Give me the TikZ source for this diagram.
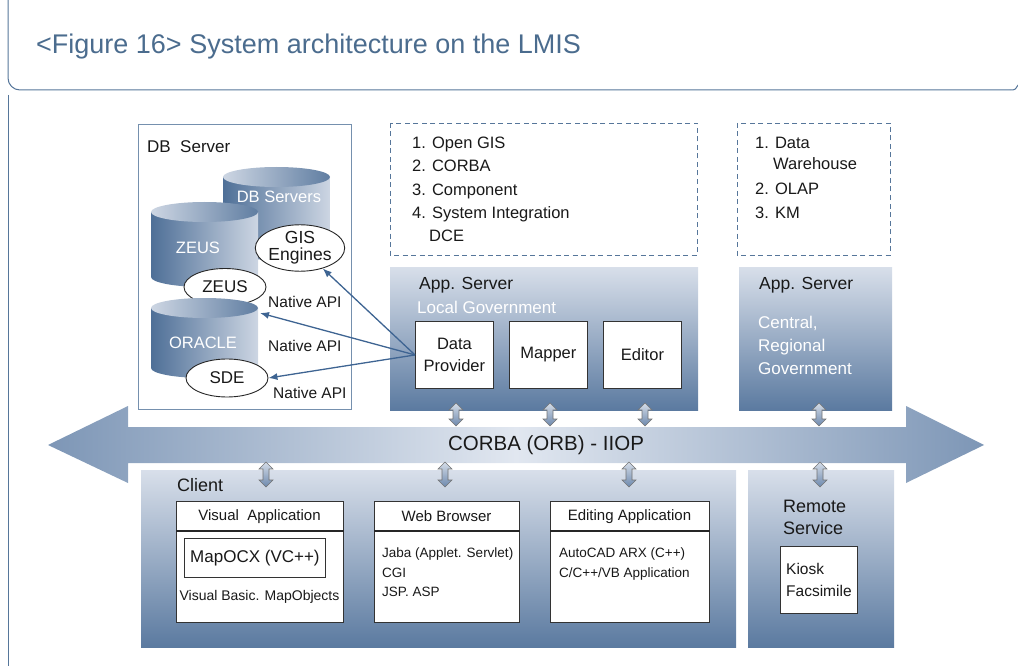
\documentclass[tikz,border=0pt]{standalone}
\usepackage{fontspec}
\setmainfont{Liberation Sans}
\usetikzlibrary{positioning,arrows.meta,shapes.geometric}

\definecolor{titleblue}{HTML}{4B6C8E}
\definecolor{frameblue}{HTML}{56769A}
\definecolor{dbframe}{HTML}{7590AE}
\definecolor{paneltop}{HTML}{D8DFEA}
\definecolor{panelbot}{HTML}{5B7AA0}
\definecolor{cyldark}{HTML}{4E6F97}
\definecolor{cyllight}{HTML}{CDD6E3}
\definecolor{busedge}{HTML}{7D96B6}
\definecolor{busmid}{HTML}{E1E7F0}
\definecolor{linkblue}{HTML}{3E6492}
\definecolor{iotop}{HTML}{D5DDE8}
\definecolor{iobot}{HTML}{6C88AD}

\newcommand{\fsz}[2]{\fontsize{#1}{#2}\selectfont}

\begin{document}
\begin{tikzpicture}[x=1pt, y=-1pt,
    txt/.style={inner sep=0pt, text=black!90},
    whitebox/.style={draw=black!80, fill=white, line width=0.9pt, inner sep=0pt, text=black!90},
    dbell/.style={ellipse, draw=black!85, fill=white, line width=0.9pt, inner sep=0pt, align=center, text=black!90},
    dashbox/.style={draw=frameblue, line width=0.9pt, dash pattern=on 5pt off 3.5pt},
    panel/.style={top color=paneltop, bottom color=panelbot},
    cylbody/.style={left color=cyldark, right color=cyllight},
    cyltop/.style={left color=cyllight, right color=cyldark!90},
    link/.style={draw=linkblue, line width=1.3pt, -{Latex[length=9pt,width=7pt]}},
    ioarrow/.style={draw=black!55, line width=0.6pt, top color=iotop, bottom color=iobot}]
  \useasboundingbox (0,0) rectangle (1018,666);

  % heading frame
  \draw[frameblue, line width=1pt, rounded corners=12pt] (8,0) -- (8,90) -- (1010,90);
  \draw[frameblue, line width=1pt] (1010,90) .. controls (1015,90) .. (1018,85);
  \draw[frameblue, line width=1pt] (8,95) -- (8,666);
  \node[txt, anchor=west, text=titleblue, font=\fsz{27}{30}] (title) at (36,47) {<Figure 16> System architecture on the LMIS};

  % DB server
  \draw[dbframe, line width=1pt] (138,125) rectangle (351,409);
  \node[txt, anchor=west, font=\fsz{17}{20}] (dbtitle) at (147,147) {DB\ \ Server};
  \foreach \cx/\ct/\cb in {276.5/177/250, 204.5/212/277} {
    \shade[cylbody] (\cx-53.5,\ct) -- (\cx-53.5,\cb) arc[start angle=180, end angle=360, x radius=53.5pt, y radius=10pt] -- (\cx+53.5,\ct) -- cycle;
    \shade[cyltop] (\cx,\ct) ellipse[x radius=53.5pt, y radius=10pt];
  }
  \node[txt, text=white, font=\fsz{16.5}{20}] (dbsrv) at (279,197) {DB Servers};
  \node[txt, text=white, font=\fsz{16.5}{20}] (zeuscyl) at (198,248) {ZEUS};
  \node[dbell, minimum width=76pt, minimum height=46pt, font=\fsz{17.5}{17}] (gis) at (300,248) {GIS\\Engines};
  \node[dbell, minimum width=82pt, minimum height=37pt, font=\fsz{17}{20}] (zeus) at (225,287) {ZEUS};
  \shade[cylbody] (151,308) -- (151,368) arc[start angle=180, end angle=360, x radius=53.5pt, y radius=10pt] -- (258,308) -- cycle;
  \shade[cyltop] (204.5,308) ellipse[x radius=53.5pt, y radius=10pt];
  \node[txt, text=white, font=\fsz{16.5}{20}] (oracle) at (203,343) {ORACLE};
  \coordinate (oratip) at (260,313);
  \node[dbell, minimum width=82pt, minimum height=38pt, font=\fsz{17}{20}] (sde) at (227,378) {SDE};
  \node[txt, anchor=west, font=\fsz{15.5}{20}] (api1) at (268,302) {Native API};
  \node[txt, anchor=west, font=\fsz{15.5}{20}] (api2) at (268,346) {Native API};
  \node[txt, anchor=west, font=\fsz{15.5}{20}] (api3) at (273,393) {Native API};

  % standards lists
  \draw[dashbox] (390,123) rectangle (697,255);
  \node[txt, anchor=north west, align=left, font=\fsz{16.5}{23.2}] (stdlist) at (412,137)
    {1. Open GIS\\2. CORBA\\3. Component\\4. System Integration\\\hspace*{17pt}DCE};
  \draw[dashbox] (737,123) rectangle (890,255);
  \node[txt, anchor=north west, align=left, font=\fsz{16.5}{24.5}] (dwlist) at (755,137)
    {1. Data\\[-3.5pt]\hspace*{18pt}Warehouse\\2. OLAP\\3. KM};

  % application servers
  \shade[panel] (390,267) rectangle (698,410);
  \node[txt, anchor=west, font=\fsz{17.5}{20}] (appl) at (419,285) {App. Server};
  \node[txt, anchor=west, text=white, font=\fsz{17}{20}] (local) at (417,307) {Local Government};
  \node[whitebox, minimum width=78pt, minimum height=67pt, anchor=north west, align=center, font=\fsz{16.5}{22}] (dp) at (415,321) {Data\\Provider};
  \node[whitebox, minimum width=78pt, minimum height=67pt, anchor=north west, font=\fsz{16.5}{20}] (mapper) at (509,321) {Mapper};
  \node[whitebox, minimum width=78pt, minimum height=67pt, anchor=north west, font=\fsz{16.5}{20}] (editor) at (603,321) {Editor};
  \shade[panel] (739,267) rectangle (892,410);
  \node[txt, anchor=west, font=\fsz{17.5}{20}] (appc) at (759,285) {App. Server};
  \node[txt, anchor=north west, align=left, text=white, font=\fsz{17}{23}] (central) at (758,316) {Central,\\Regional\\Government};

  % native API links
  \draw[link] (dp.west) -- (gis.-42);
  \draw[link] (dp.west) -- (oratip);
  \draw[link] (dp.west) -- (sde.east);

  % CORBA bus
  \shade[left color=busedge, right color=busedge, middle color=busmid]
    (48,445) -- (128,406) -- (128,427) -- (906,427) -- (906,406) -- (984,445)
    -- (906,483) -- (906,463) -- (128,463) -- (128,483) -- cycle;
  \node[txt, font=\fsz{20.5}{22}] (corba) at (546,445) {CORBA (ORB) - IIOP};

  % client and remote service
  \shade[panel] (141,470) rectangle (736,647);
  \node[txt, anchor=west, font=\fsz{18}{20}] (client) at (177,485) {Client};
  \node[whitebox, minimum width=167pt, minimum height=121pt, anchor=north west] (vapp) at (176,501) {};
  \draw[black!85, line width=1.6pt] (vapp.west |- 0,531) -- (vapp.east |- 0,531);
  \node[txt, font=\fsz{15}{18}] (vapptitle) at (259.5,517) {Visual\ \ Application};
  \node[whitebox, minimum width=141pt, minimum height=39pt, anchor=north west, font=\fsz{17}{20}] (mapocx) at (184,538) {MapOCX (VC++)};
  \node[txt, font=\fsz{14}{18}] (vbmo) at (259.5,597) {Visual Basic. MapObjects};

  \node[whitebox, minimum width=145pt, minimum height=121pt, anchor=north west] (web) at (374,501) {};
  \draw[black!85, line width=1.6pt] (web.west |- 0,531) -- (web.east |- 0,531);
  \node[txt, font=\fsz{15}{18}] (webtitle) at (446.5,516) {Web Browser};
  \node[txt, anchor=north west, align=left, font=\fsz{13.5}{19.5}] (weblist) at (382,548)
    {Jaba (Applet. Servlet)\\CGI\\JSP. ASP};

  \node[whitebox, minimum width=159pt, minimum height=121pt, anchor=north west] (edapp) at (550,501) {};
  \draw[black!85, line width=1.6pt] (edapp.west |- 0,531) -- (edapp.east |- 0,531);
  \node[txt, font=\fsz{15}{18}] (edtitle) at (629.5,517) {Editing Application};
  \node[txt, anchor=north west, align=left, font=\fsz{13.5}{19.5}] (edlist) at (559,548)
    {AutoCAD ARX (C++)\\C/C++/VB Application};

  \shade[panel] (748,470) rectangle (894,647);
  \node[txt, anchor=north west, align=left, font=\fsz{18}{22}] (remote) at (783,500) {Remote\\Service};
  \node[whitebox, minimum width=77pt, minimum height=67pt, anchor=north west] (kiosk) at (780,546) {};
  \node[txt, anchor=north west, align=left, font=\fsz{15.5}{22}] (kiosktxt) at (786,563) {Kiosk\\Facsimile};

  % bus connectors
  \foreach \cx/\ya/\yb in {456/403/426, 550/403/426, 645/403/426, 819/403/426,
                          266/462/487, 445/462/487, 629/462/487, 820/462/487}
    \draw[ioarrow] (\cx,\ya) -- ++(7,7) -- ++(-4,0) -- (\cx+3,\yb-7) -- ++(4,0) -- (\cx,\yb)
      -- ++(-7,-7) -- ++(4,0) -- (\cx-3,\ya+7) -- ++(-4,0) -- cycle;
\end{tikzpicture}
\end{document}
